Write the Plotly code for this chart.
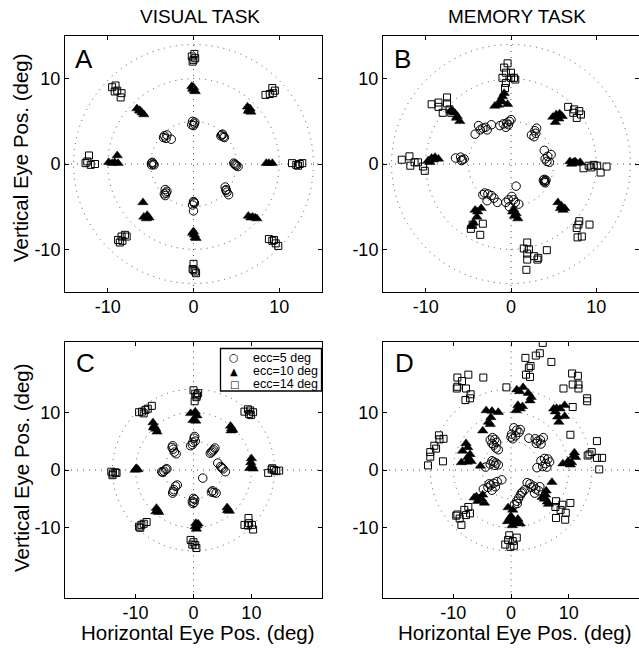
import plotly.graph_objects as go

# ---------------- data (deg) ----------------
# Panel A : visual task, session 1
A_ecc5_x = [-0.1, 0.1, 0.0, -0.2, 0.15, -3.4, -3.2, -3.1, -3.5, -2.6, 3.3, 3.5, 3.4, 3.2, 3.6,
            -4.9, -4.7, -4.8, -4.6, -4.9, 4.7, 4.9, 5.0, 5.2, 4.8, -3.3, -3.2, -3.3, -3.1, -3.4,
            3.7, 3.8, 3.9, 4.1, 3.8, 0.0, 0.1, -0.1, 0.05, 0.0]
A_ecc5_y = [5.0, 4.7, 4.5, 4.6, 4.9, 3.3, 3.0, 3.4, 3.1, 2.9, 3.4, 3.2, 3.5, 3.3, 3.1,
            0.1, 0.0, 0.2, -0.1, -0.1, 0.1, -0.1, -0.2, -0.3, 0.0, -3.0, -3.4, -3.7, -3.2, -3.5,
            -2.7, -3.0, -3.3, -3.6, -3.1, -4.4, -4.6, -4.8, -4.5, -5.5]
A_ecc10_x = [-0.2, -0.1, 0.1, 0.0, 0.2, -6.6, -6.3, -6.0, -5.8, -6.2, 6.3, 6.5, 6.7, 6.4, 6.6,
             -9.9, -9.5, -8.9, -9.2, -8.8, 8.5, 9.2, 8.8, -5.9, -5.8, -5.4, -5.2, -5.5,
             6.4, 6.9, 7.2, 7.4, 6.7, 0.0, 0.1, 0.2, 0.3, -0.1]
A_ecc10_y = [9.1, 8.8, 8.6, 9.0, 8.5, 6.5, 6.3, 6.0, 5.8, 6.2, 6.7, 6.4, 6.1, 6.2, 6.5,
             0.2, 0.1, 1.0, 0.2, 0.1, 0.1, 0.1, 0.1, -4.5, -6.2, -6.0, -6.3, -6.4,
             -6.1, -6.2, -6.3, -6.4, -6.3, -7.9, -8.3, -8.6, -8.7, -8.1]
A_ecc14_x = [-0.2, 0.0, 0.1, -0.1, 0.2, -9.5, -9.1, -8.9, -8.4, -8.5, -9.2, 8.4, 8.9, 9.2, 9.5, 9.3,
             -12.6, -12.2, -12.4, -12.0, -11.5, 11.5, 12.0, 12.4, 12.7, 12.2,
             -8.8, -8.4, -8.0, -8.6, -7.8, -8.3, 8.8, 9.2, 9.6, 9.9, 9.4, 0.0, -0.1, 0.2, 0.3, 0.0]
A_ecc14_y = [12.6, 12.2, 12.9, 12.0, 12.4, 9.0, 9.2, 8.6, 8.3, 7.8, 8.5, 8.1, 8.2, 8.9, 8.6, 8.3,
             0.1, 1.0, 0.3, -0.1, 0.0, 0.1, -0.1, 0.0, 0.1, -0.2,
             -8.9, -8.5, -8.3, -9.2, -8.5, -9.0, -8.8, -9.0, -9.3, -9.6, -8.9, -11.7, -12.3, -12.6, -12.8, -12.4]

# Panel B : memory task, session 1
B_ecc5_x = [-1.3, -0.9, -0.5, -0.2, 0.0, -0.6, -0.3, -4.2, -3.8, -3.3, -2.8, -2.3, -3.0, -3.6,
            2.4, 2.8, 3.0, 2.9, 2.7, 3.9, 4.3, 4.7, 4.2, 4.5, 4.0, -6.5, -5.9, -5.7, -5.5, -5.8,
            3.8, 3.9, 4.0, 4.1, 3.9, 4.0, -3.1, -2.7, -2.3, -2.0, -1.6, -2.8, -3.3,
            0.6, -0.3, 0.1, -0.6, 0.5, 0.9, -0.2, 0.3]
B_ecc5_y = [4.5, 4.7, 4.8, 5.0, 5.2, 4.3, 4.6, 3.5, 4.5, 4.2, 4.0, 4.6, 4.3, 4.0,
            3.4, 3.9, 4.2, 3.6, 3.2, 1.6, 0.9, 1.1, 0.3, 0.2, 0.6, 0.7, 0.8, 0.5, 0.6, 0.4,
            -1.9, -2.1, -2.0, -1.9, -1.8, -2.2, -3.4, -3.5, -3.7, -4.0, -4.5, -4.3, -3.6,
            -2.6, -4.2, -3.8, -4.5, -4.5, -4.7, -5.0, -4.2]
B_ecc10_x = [-1.9, -1.5, -1.1, -1.0, -0.8, -0.4, -1.2, -7.0, -6.6, -6.3, -6.0, -6.4, -6.8,
             4.9, 5.3, 5.7, 5.2, 5.6, 6.0, -9.7, -9.3, -8.9, -8.5, -9.5, -9.1,
             6.9, 7.3, 7.7, 8.1, 7.1, 7.5, 5.5, 5.9, 6.1, 5.8, 6.3,
             -3.5, -3.9, -4.2, -4.0, -4.4, -4.6, 0.3, 0.6, 0.4, 0.8, 0.2]
B_ecc10_y = [6.8, 6.9, 7.3, 7.9, 8.3, 7.0, 7.5, 6.3, 6.0, 5.6, 5.0, 5.4, 6.1,
             5.5, 5.8, 5.9, 4.9, 5.3, 5.6, 0.4, 0.7, 0.8, 0.6, 0.2, 0.5,
             0.3, 0.2, 0.1, 0.2, 0.0, 0.3, -4.5, -4.9, -5.4, -5.2, -5.2,
             -5.2, -5.6, -5.4, -6.2, -6.9, -7.3, -5.3, -5.8, -6.1, -6.4, -5.6]
B_ecc14_x = [-0.4, -0.8, -0.6, 0.0, -1.0, 0.0, 0.35, 0.5, -0.6, -0.7,
             -9.3, -8.5, -7.5, -7.5, -8.5, -8.0, -7.2, -7.0, 6.7, 7.4, 8.0, 7.3, 8.2, 7.7,
             -12.8, -11.9, -11.3, -11.8, -10.9, -10.3, -10.1, 8.5, 9.1, 9.7, 10.1, 10.5, 11.2, 9.4,
             7.9, 9.2, 7.7, 7.8, 8.3, 8.0, -4.7, -3.3, -3.6, -4.5,
             1.9, 1.5, 2.1, 1.9, 2.7, 3.2, 1.9, 4.2, 1.8, 3.1]
B_ecc14_y = [11.8, 11.3, 10.7, 10.7, 10.1, 10.1, 10.1, 9.9, 9.5, 8.9,
             7.0, 7.2, 7.8, 7.1, 6.7, 6.0, 6.4, 6.0, 6.7, 6.4, 6.2, 6.0, 5.8, 5.4,
             0.5, 0.9, 0.2, -0.2, 0.2, -0.3, -0.8, -0.5, -0.2, -0.1, -0.2, -1.0, -0.3, -0.4,
             -7.1, -7.1, -7.5, -8.6, -8.5, -6.7, -7.6, -7.0, -8.3, -7.1,
             -9.2, -9.9, -10.0, -10.5, -10.8, -11.0, -11.2, -10.1, -12.4, -11.2]

# Panel C : visual task, session 2
C_ecc5_x = [0.1, 0.3, -0.2, -0.5, 0.2, -0.1, -3.6, -3.5, -3.3, -3.0, -3.7, 2.9, 3.3, 3.7, 3.1, 3.5,
            4.2, 4.7, 5.1, 5.5, 4.9, -5.5, -5.1, -4.8, -4.6, -5.3, -3.6, -3.4, -3.1, -2.8, -3.5,
            3.1, 3.5, 3.9, 3.3, 0.0, -0.2, 0.1, 0.2, -0.1, 1.6]
C_ecc5_y = [5.5, 5.0, 4.4, 4.2, 5.8, 4.8, 4.2, 3.6, 3.1, 2.8, 3.9, 2.9, 3.3, 3.8, 3.1, 3.5,
            1.2, 0.6, 0.2, -0.3, 0.4, -0.3, -0.2, 0.1, 0.2, -0.4, -4.0, -3.4, -2.8, -2.6, -3.7,
            -3.8, -3.9, -4.0, -3.6, -4.9, -5.4, -5.6, -5.1, -5.8, -1.4]
C_ecc10_x = [-0.5, 0.3, 0.6, -0.1, 0.4, -7.0, -6.8, -6.5, -6.3, -6.9, 6.4, 6.6, 6.8, 6.5,
             10.0, 9.9, 10.1, 9.7, 10.3, -9.9, -9.6, -10.1, -9.8, -6.4, -6.2, -6.0, -6.5,
             5.8, 6.0, 6.2, 5.9, 0.4, 0.6, 0.5, 0.8, 0.3]
C_ecc10_y = [9.8, 10.1, 9.4, 8.6, 8.5, 8.2, 7.6, 7.1, 6.6, 7.3, 7.6, 7.2, 6.9, 6.8,
             2.0, 1.3, 0.7, 0.3, 0.2, 0.3, 0.1, 0.0, 0.2, -6.6, -7.0, -7.3, -7.2,
             -6.5, -6.8, -7.1, -7.0, -9.2, -9.6, -10.2, -9.3, -9.8]
C_ecc14_x = [0.0, 0.3, 0.8, 0.5, 0.2, 0.6, -9.4, -8.9, -8.3, -7.9, -8.6, -7.2,
             8.8, 9.4, 9.8, 9.6, 10.3, 9.9, 12.9, 13.5, 13.9, 14.3, 14.8, 13.6,
             -14.2, -13.9, -13.5, -14.0, -13.3, -9.4, -9.0, -8.6, -8.1, -9.2,
             8.8, 9.5, 9.6, 10.1, 10.3, 9.4, -0.5, 0.0, 0.3, 0.5, -0.2]
C_ecc14_y = [13.8, 13.2, 13.3, 12.6, 11.9, 12.9, 10.0, 10.1, 10.4, 10.6, 9.8, 11.1,
             10.1, 10.5, 10.3, 9.7, 10.0, 9.5, -0.5, 0.1, 0.0, -0.2, -0.1, 0.3,
             -0.3, -0.6, -0.4, -0.9, -0.5, -9.8, -9.5, -9.3, -9.0, -10.0,
             -9.5, -8.3, -9.2, -9.5, -10.3, -9.6, -12.1, -12.5, -13.0, -13.5, -12.9]

# Panel D : memory task, session 2
D_ecc5_x = [0.1, 0.5, 1.0, 1.4, 0.3, 0.8, 1.6, 0.0, -3.6, -3.2, -2.8, -2.5, -3.0, -2.6, -3.3, -2.2,
            3.1, 4.2, 4.6, 5.1, 5.6, 4.4, 5.2, 4.5, 5.2, 5.8, 6.4, 6.0, 6.7, 5.5, 6.2,
            -4.4, -3.6, -3.0, -2.6, -2.2, -3.3, -2.8,
            -4.8, -4.0, -3.5, -3.0, -2.4, -1.6, -3.3, -2.7, -3.8,
            2.8, 3.3, 3.9, 4.3, 4.8, 4.1, 3.5, 5.0, 0.6, 1.0, 1.3, 1.6, 2.0, 2.4, 1.1, 1.8]
D_ecc5_y = [6.2, 7.3, 6.9, 6.5, 5.4, 5.9, 7.0, 5.7, 5.2, 5.6, 5.3, 4.8, 4.3, 3.8, 4.6, 3.5,
            5.5, 5.4, 5.0, 5.2, 5.6, 4.6, 4.5, 0.4, 1.6, 2.0, 1.9, 1.1, 1.4, 0.6, 0.5,
            0.5, 1.0, 1.4, 1.2, 0.9, 1.6, 0.8,
            -3.3, -3.0, -2.6, -2.3, -2.0, -1.7, -3.5, -2.9, -2.4,
            -2.2, -2.4, -2.8, -3.3, -3.6, -4.0, -3.0, -2.9, -6.0, -5.4, -4.9, -4.4, -3.8, -3.4, -5.8, -4.0]
D_ecc10_x = [1.0, 2.1, 1.5, 3.0, 3.5, 3.3, 1.2, 1.6, 2.0, 0.9,
             -4.3, -3.3, -2.2, -3.5, -3.9, -3.6, -4.9, 7.4, 7.9, 8.5, 9.3, 8.1, 8.3, 9.3, 7.7,
             9.0, 9.9, 10.3, 10.9, 11.2, 10.5, 11.0,
             -8.6, -8.4, -7.8, -7.5, -7.5, -7.1, -7.6, -6.9, -5.3,
             -6.4, -6.0, -5.5, -5.1, -4.6, -5.8, -4.9, 7.1, 6.1, 6.0, 5.8, 6.3, 5.9, 6.5, 5.4,
             -0.5, 0.3, 0.0, 0.4, -0.6, 0.8, 1.2, 1.6, 0.2, -0.2]
D_ecc10_y = [13.9, 14.3, 13.6, 13.3, 12.6, 12.0, 11.2, 10.6, 11.0, 10.3,
             10.3, 10.2, 10.0, 9.1, 8.3, 7.9, 6.8, 10.6, 10.7, 10.6, 11.2, 9.2, 8.3, 9.3, 10.1,
             1.1, 1.5, 0.9, 2.5, 2.2, 1.3, 3.0,
             1.3, 3.3, 4.6, 3.9, 2.2, 2.7, 1.4, 1.5, 0.7,
             -4.8, -4.6, -4.9, -5.0, -5.7, -5.4, -4.3, -2.1, -3.6, -4.3, -5.0, -5.5, -4.9, -5.9, -4.7,
             -6.5, -6.9, -8.0, -8.6, -8.9, -9.2, -8.5, -9.3, -9.6, -8.3]
D_ecc14_x = [5.5, 2.5, 4.3, 5.0, 7.0, 3.1, 3.4, 2.6, 3.3, -0.8,
             -9.3, -8.5, -7.4, -4.8, -9.3, -7.8, -7.0, -7.1, -7.9, -9.4,
             10.6, 11.6, 10.7, 11.7, 9.1, 11.7, 13.2, 13.2, 10.7, 10.3,
             14.9, 14.0, 13.3, 14.9, 15.8, 13.6, 15.3,
             -14.4, -14.0, -14.0, -13.3, -12.5, -12.4, -11.7, -13.0, -11.8,
             -9.3, -8.9, -8.1, -7.8, -7.4, -8.6, -9.5, -7.1,
             7.8, 8.9, 10.3, 7.7, 8.6, 9.5, 7.8, 9.4,
             -0.3, -1.0, 0.3, 1.0, -0.1, -0.5, 0.5]
D_ecc14_y = [22.0, 19.4, 19.8, 20.2, 18.7, 17.7, 18.0, 16.5, 16.1, 14.3,
             16.0, 15.4, 16.5, 16.0, 14.4, 14.1, 13.1, 12.4, 12.1, 14.1,
             16.7, 16.3, 14.8, 14.8, 14.1, 14.1, 12.4, 11.9, 10.9, 6.1,
             5.0, 3.1, 2.5, 2.1, 2.1, 2.7, 0.1,
             0.8, 2.3, 3.1, 4.2, 6.0, 5.3, 5.4, 3.7, 1.5,
             -7.7, -8.4, -6.9, -7.8, -6.4, -9.5, -7.9, -7.5,
             -5.4, -6.0, -5.7, -6.4, -6.9, -7.4, -8.3, -8.6,
             -11.3, -12.9, -12.3, -11.7, -13.3, -12.1, -13.1]

ecc_labels = ["ecc=5 deg", "ecc=10 deg", "ecc=14 deg"]
ring_radii = [5, 10, 14]
tick_vals = [-10, 0, 10]
tick_text = ["-10", "0", "10"]
col_titles = ["VISUAL TASK", "MEMORY TASK"]
x_title = "Horizontal Eye Pos. (deg)"
y_title = "Vertical Eye Pos. (deg)"
panel_letters = ["A", "B", "C", "D"]

panels = [
    (A_ecc5_x, A_ecc5_y, A_ecc10_x, A_ecc10_y, A_ecc14_x, A_ecc14_y),
    (B_ecc5_x, B_ecc5_y, B_ecc10_x, B_ecc10_y, B_ecc14_x, B_ecc14_y),
    (C_ecc5_x, C_ecc5_y, C_ecc10_x, C_ecc10_y, C_ecc14_x, C_ecc14_y),
    (D_ecc5_x, D_ecc5_y, D_ecc10_x, D_ecc10_y, D_ecc14_x, D_ecc14_y),
]

# ---------------- layout geometry ----------------
W, H = 639, 649
def px(x):
    return x / W
def py(y):
    return 1 - y / H

x_domains = [[px(65), px(322)], [px(383), 1.0], [px(65), px(322)], [px(383), 1.0]]
y_domains = [[py(292), py(36)], [py(292), py(36)], [py(598.3), py(341.7)], [py(598.3), py(341.7)]]
ranges = [15, 15, 22.2, 22.2]

FONT = "Liberation Sans, Arial, Helvetica, sans-serif"

fig = go.Figure()

styles = [
    dict(symbol="circle-open", size=8.5, color="black", line=dict(width=1, color="black")),
    dict(symbol="triangle-up", size=9, color="black", line=dict(width=0.5, color="black")),
    dict(symbol="square-open", size=7, color="black", line=dict(width=1, color="black")),
]

for i, p in enumerate(panels):
    xa = "x" if i == 0 else f"x{i+1}"
    ya = "y" if i == 0 else f"y{i+1}"
    for k in range(3):
        fig.add_trace(go.Scatter(
            x=p[2 * k], y=p[2 * k + 1], mode="markers",
            marker=styles[k], name=ecc_labels[k], showlegend=False,
            xaxis=xa, yaxis=ya, cliponaxis=True))

shapes = []
annotations = []
dotline = dict(color="#505050", width=1, dash="1px,5px")
for i in range(4):
    xa = "x" if i == 0 else f"x{i+1}"
    ya = "y" if i == 0 else f"y{i+1}"
    r = ranges[i]
    axis_common = dict(range=[-r, r], showgrid=False, zeroline=False, showline=True,
                       linecolor="black", linewidth=1, mirror="ticks", ticks="inside",
                       ticklen=4, tickcolor="black", tickvals=tick_vals, ticktext=tick_text,
                       tickfont=dict(family=FONT, size=18, color="black"), fixedrange=True)
    xk = "xaxis" if i == 0 else f"xaxis{i+1}"
    yk = "yaxis" if i == 0 else f"yaxis{i+1}"
    fig.layout[xk] = dict(domain=x_domains[i], anchor=ya, ticklabelstandoff=-2, **axis_common)
    fig.layout[yk] = dict(domain=y_domains[i], anchor=xa, **axis_common)
    for rr in ring_radii:
        shapes.append(dict(type="circle", xref=xa, yref=ya, x0=-rr, x1=rr, y0=-rr, y1=rr,
                           line=dotline, layer="below"))
    shapes.append(dict(type="line", xref=xa, yref=ya + " domain", x0=0, x1=0, y0=0, y1=1,
                       line=dotline, layer="below"))
    shapes.append(dict(type="line", xref=xa + " domain", yref=ya, x0=0, x1=1, y0=0, y1=0,
                       line=dotline, layer="below"))

# panel letters
letter_pos = [(73, 58.5), (392, 58.5), (74, 363), (393, 363)]
for L, (lx, ly) in zip(panel_letters, letter_pos):
    annotations.append(dict(text=L, x=px(lx), y=py(ly), xref="paper", yref="paper",
                            xanchor="left", yanchor="middle", showarrow=False,
                            font=dict(family=FONT, size=26, color="black")))

# column titles
for t, cx in zip(col_titles, [200, 516.5]):
    annotations.append(dict(text=t, x=px(cx), y=py(17), xref="paper", yref="paper",
                            xanchor="center", yanchor="middle", showarrow=False,
                            font=dict(family=FONT, size=19, color="black")))

# axis titles
for cy in [158, 468]:
    annotations.append(dict(text=y_title, x=px(21), y=py(cy), xref="paper", yref="paper",
                            xanchor="center", yanchor="middle", showarrow=False, textangle=-90,
                            font=dict(family=FONT, size=20.5, color="black")))
for cx in [197.5, 515]:
    annotations.append(dict(text=x_title, x=px(cx), y=py(632), xref="paper", yref="paper",
                            xanchor="center", yanchor="middle", showarrow=False,
                            font=dict(family=FONT, size=20.5, color="black")))

# legend box in panel C
shapes.append(dict(type="rect", xref="paper", yref="paper", x0=px(220.5), x1=px(321.5),
                   y0=py(391), y1=py(348.5), line=dict(color="black", width=1.3),
                   fillcolor="white", layer="above"))
leg_symbols = ["○", "▲", "□"]
leg_sizes = [11, 10, 10]
for j, (s, lab) in enumerate(zip(leg_symbols, ecc_labels)):
    yy = 357.5 + j * 13.5
    annotations.append(dict(text=s, x=px(234), y=py(yy), xref="paper", yref="paper",
                            xanchor="center", yanchor="middle", showarrow=False,
                            font=dict(family="DejaVu Sans", size=leg_sizes[j], color="black")))
    annotations.append(dict(text=lab, x=px(251), y=py(yy), xref="paper", yref="paper",
                            xanchor="left", yanchor="middle", showarrow=False,
                            font=dict(family=FONT, size=12.5, color="black")))

fig.update_layout(width=W, height=H, margin=dict(l=0, r=0, t=0, b=0),
                  plot_bgcolor="white", paper_bgcolor="white", showlegend=False,
                  shapes=shapes, annotations=annotations)

fig.write_html("out.html")
